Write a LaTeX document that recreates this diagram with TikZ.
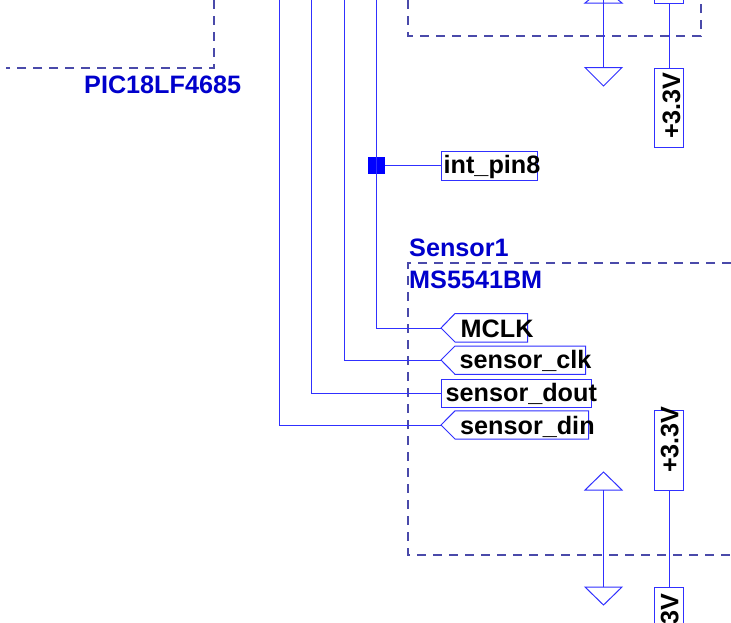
\documentclass[tikz,border=0pt]{standalone}
\usepackage{fontspec}
\setmainfont{Liberation Sans}
\definecolor{wireblue}{HTML}{3030FF}
\definecolor{dashblue}{HTML}{4A4AAA}
\definecolor{titleblue}{HTML}{0000CC}
\newcommand{\lblfont}{\fontsize{25.2}{25.2}\selectfont\bfseries}
\tikzset{
  x=1pt,y=-1pt,
  wire/.style={draw=wireblue,line width=1pt},
  bound/.style={draw=dashblue,line width=1.25pt,dash pattern=on 9pt off 7pt},
  pinbox/.style={draw=wireblue,line width=1pt,rectangle,inner sep=0pt,anchor=north west},
  lbl/.style={text=black,font=\lblfont,inner sep=0pt,anchor=base west},
  vlbl/.style={text=black,font=\lblfont,inner sep=0pt,anchor=base west,rotate=90},
  title/.style={text=titleblue,font=\lblfont,inner sep=0pt,anchor=base west},
  dot/.style={fill=blue,draw=none,rectangle,minimum size=17pt,inner sep=0pt}
}
\begin{document}
\begin{tikzpicture}
\useasboundingbox (0,0) rectangle (731,622);
\clip (0,0) rectangle (731,622);
\fill[white] (0,0) rectangle (731,622);
% boundaries
\draw[bound] (214,0) -- (214,68) -- (6,68);
\draw[bound] (408,0) -- (408,36) -- (701,36) -- (701,0);
\draw[bound] (731,263) -- (408,263) -- (408,555) -- (731,555);
% free ends
\coordinate (topD) at (279,-2);
\coordinate (topC) at (311,-2);
\coordinate (topB) at (344,-2);
\coordinate (topA) at (376,-2);
% pin flags
\coordinate (mclkTip) at (441,328);
\coordinate (clkTip) at (441,360);
\coordinate (dinTip) at (441,425);
\draw[wire] (mclkTip) -- (455,313.5) -- (527.5,313.5) -- (527.5,342) -- (455,342) -- cycle;
\draw[wire] (clkTip) -- (455,346) -- (585.5,346) -- (585.5,374.3) -- (455,374.3) -- cycle;
\draw[wire] (dinTip) -- (455,410.8) -- (588.5,410.8) -- (588.5,439) -- (455,439) -- cycle;
\node[pinbox,minimum width=150pt,minimum height=28.5pt] (dout) at (441,378.8) {};
\node[pinbox,minimum width=96pt,minimum height=28.5pt] (intpin) at (441,151) {};
\node[dot] (junction) at (376,165.3) {};
% wires
\draw[wire] (topA) -- (376,328) -- (mclkTip);
\draw[wire] (topB) -- (344,360) -- (clkTip);
\draw[wire] (topC) -- (topC |- dout.west) -- (dout.west);
\draw[wire] (topD) -- (279,425) -- (dinTip);
\draw[wire] (junction) -- (junction -| intpin.west);
% power
\coordinate (gA) at (603.5,-2);
\coordinate (gB) at (603.5,67.5);
\coordinate (gC) at (603.5,490);
\coordinate (gD) at (603.5,587);
\draw[wire] (585,3) -- (603.5,-12) -- (622,3) -- cycle;
\draw[wire] (gA) -- (gB);
\draw[wire] (585,67.5) -- (622,67.5) -- (603.5,86) -- cycle;
\draw[wire] (585,490) -- (622,490) -- (603.5,472) -- cycle;
\draw[wire] (gC) -- (gD);
\draw[wire] (585,587) -- (622,587) -- (603.5,605) -- cycle;
\node[pinbox,minimum width=28.5pt,minimum height=80pt] (vA) at (654.3,-77) {};
\node[pinbox,minimum width=28.5pt,minimum height=79.5pt] (vB) at (654.3,67.5) {};
\node[pinbox,minimum width=28.5pt,minimum height=80pt] (vC) at (654.3,410) {};
\node[pinbox,minimum width=28.5pt,minimum height=80pt] (vD) at (654.3,587) {};
\draw[wire] (vA.south) -- (vB.north);
\draw[wire] (vC.south) -- (vD.north);
% texts
\node[title] (picname) at (84,93) {PIC18LF4685};
\node[title] (sensorname) at (409,256) {Sensor1};
\node[title] (sensorpart) at (409,288) {MS5541BM};
\node[lbl] (tInt) at (443.5,173.5) {int\_pin8};
\node[lbl] (tMclk) at (460.5,337) {MCLK};
\node[lbl] (tClk) at (459.5,368.7) {sensor\_clk};
\node[lbl] (tDout) at (445.5,401.3) {sensor\_dout};
\node[lbl] (tDin) at (460,434) {sensor\_din};
\node[vlbl] (tVB) at (680,139) {+3.3V};
\node[vlbl] (tVC) at (678.3,473) {+3.3V};
\node[vlbl] (tVD) at (678.3,660) {+3.3V};
\end{tikzpicture}
\end{document}
